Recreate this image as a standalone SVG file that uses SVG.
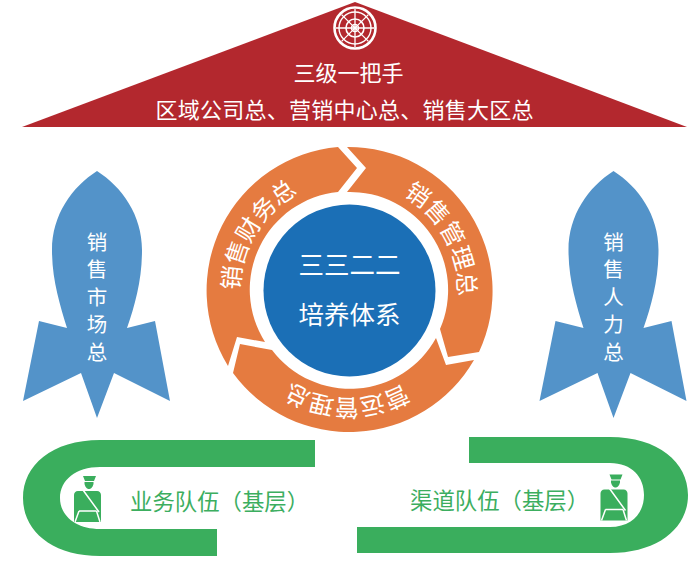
<svg xmlns="http://www.w3.org/2000/svg" width="699" height="566" viewBox="0 0 699 566">
<style>
text{font-family:"Noto Sans CJK SC","Noto Sans",sans-serif;text-anchor:middle;fill:#fff}
.top{font-size:22px}
.rk{font-size:20.500px;writing-mode:vertical-rl;letter-spacing:7px}
.ring{font-size:24px}
.mid{font-size:25.500px}
.lab{font-size:22.400px;fill:#3cae5f;text-anchor:start}
.org{fill:#e57b40}
.rocket{fill:#5393c9}
.green{fill:#3aae5d}
.ln{stroke:#fff;fill:none}
</style>
<defs>
<path id="rocket" d="M97,171C72,187 52,215 52,250C52,280 60,305 67,328L39,321L23,401L81,373L97,418L114,373L170,401L155,321L127,328C135,305 142,280 142,250C142,215 122,187 97,171Z"/>
<g id="man">
<path class="green" d="M83,476H96L94,481H85ZM84.500,482H93.500V484C92.500,488 90.500,489 89,489C87.500,489 85.500,488 84.500,484ZM78,491H97C99.500,491 101,493 101,495V522H74V495C74,493 75.500,491 78,491Z"/>
<path class="ln" stroke-width="1.500" d="M83,490L99,512M79,511H96.500M79,511L75,522M96.500,511L100,522"/>
</g>
</defs>
<g id="roof">
<path fill="#b3282e" d="M355,2L22,127H687Z"/>
<g class="ln">
<circle cx="355" cy="28" r="20.500" stroke-width="2.600"/>
<circle cx="355" cy="28" r="16" stroke-width="1.400"/>
<circle cx="355" cy="28" r="9" stroke-width="1.600"/>
<circle cx="355" cy="28" r="3.500" stroke-width="1.600"/>
<path stroke-width="1.300" d="M355,9V47M336,28H374M341.600,14.600L368.400,41.400M368.400,14.600L341.600,41.400"/>
</g>
<text class="top" x="348.500" y="81">三级一把手</text>
<text class="top" x="344.500" y="118" textLength="378" lengthAdjust="spacing">区域公司总、营销中心总、销售大区总</text>
</g>
<g id="rocket-left">
<use href="#rocket" class="rocket"/>
<text class="rk" x="97" y="300.500">销售市场总</text>
</g>
<g id="rocket-right">
<use href="#rocket" class="rocket" x="516.500"/>
<text class="rk" x="613.500" y="300.500">销售人力总</text>
</g>
<g id="ring-left">
<path class="org" d="M228,366A144,144 0 0 1 338,147L357,168L338,192A98,98 0 0 0 265,342L237,337Z"/>
<g class="ring">
<text x="349" y="181" transform="rotate(-84 349 290)">销</text>
<text x="349" y="181" transform="rotate(-71.500 349 290)">售</text>
<text x="349" y="181" transform="rotate(-59 349 290)">财</text>
<text x="349" y="181" transform="rotate(-46.500 349 290)">务</text>
<text x="349" y="181" transform="rotate(-34 349 290)">总</text>
</g>
</g>
<g id="ring-right">
<path class="org" d="M347,147A144,144 0 0 1 479,352L448,357L440,329A98,98 0 0 0 347,192L366,168Z"/>
<g class="ring">
<text x="349" y="181" transform="rotate(36 349 290)">销</text>
<text x="349" y="181" transform="rotate(48.750 349 290)">售</text>
<text x="349" y="181" transform="rotate(61.500 349 290)">管</text>
<text x="349" y="181" transform="rotate(74.250 349 290)">理</text>
<text x="349" y="181" transform="rotate(87 349 290)">总</text>
</g>
</g>
<g id="ring-bottom">
<path class="org" d="M474,360A144,144 0 0 1 233,373L240,344L272,350A98,98 0 0 0 436,338L446,365Z"/>
<g class="ring">
<text x="349" y="181" transform="rotate(156 349 290)">营</text>
<text x="349" y="181" transform="rotate(168.500 349 290)">运</text>
<text x="349" y="181" transform="rotate(181 349 290)">管</text>
<text x="349" y="181" transform="rotate(193.500 349 290)">理</text>
<text x="349" y="181" transform="rotate(206 349 290)">总</text>
</g>
</g>
<g id="hub">
<circle cx="349.500" cy="290.500" r="86" fill="#1b6fb6"/>
<text class="mid" x="349.500" y="274">三三二二</text>
<text class="mid" x="349.500" y="324">培养体系</text>
</g>
<g id="team-left">
<path class="green" d="M315,440H100C52,440 23,465 23,498C23,531 52,556 100,556H217V529H100C76,529 60,516 60,498C60,480 76,467 100,467H315Z"/>
<use href="#man"/>
<text class="lab" x="130" y="510">业务队伍（基层）</text>
</g>
<g id="team-right">
<path class="green" d="M469,437H610C658,437 688,462 688,495C688,528 658,553 610,553H357V527H610C632,527 644,513 644,495C644,477 632,463 610,463H469Z"/>
<use href="#man" x="526.500" y="-1.500"/>
<text class="lab" x="410" y="509">渠道队伍（基层）</text>
</g>
</svg>
